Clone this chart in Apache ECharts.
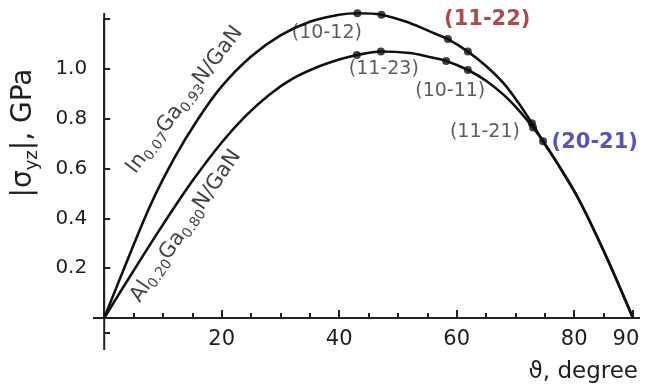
<!DOCTYPE html>
<html><head><meta charset="utf-8">
<script src="https://cdn.jsdelivr.net/npm/echarts@6/dist/echarts.min.js"></script>
<style>html,body{margin:0;padding:0;background:#fff}#c{width:647px;height:389px}</style>
</head><body><div id="c"></div>
<script>
// ---- data ----
const inAngle  = [0, 4, 8, 12, 16, 20, 25, 30, 35, 40, 43.1, 47.2, 52, 56, 58.5, 61.9, 65, 68, 70.5, 72.8, 74.7, 77.3, 80.7, 85.2, 90];
const inStress = [0, 0.235, 0.46, 0.645, 0.80, 0.93, 1.05, 1.135, 1.19, 1.218, 1.224, 1.218, 1.185, 1.145, 1.12, 1.07, 1.012, 0.942, 0.864, 0.782, 0.71, 0.615, 0.48, 0.26, 0];
const alAngle  = [0, 5, 10, 15, 20, 24, 28, 32, 36, 40, 43, 47.1, 52, 55, 58.2, 61.9, 65, 68, 70.5, 73, 74.7, 77.3, 80.7, 85.2, 90];
const alStress = [0, 0.19, 0.375, 0.55, 0.705, 0.81, 0.895, 0.96, 1.005, 1.038, 1.056, 1.07, 1.064, 1.05, 1.032, 0.996, 0.953, 0.896, 0.836, 0.765, 0.71, 0.615, 0.48, 0.26, 0];
const inDotAngle  = [43.1, 47.2, 58.5, 61.9, 72.8];
const inDotStress = [1.224, 1.218, 1.12, 1.07, 0.782];
const alDotAngle  = [43, 47.1, 58.2, 61.9, 73, 74.7];
const alDotStress = [1.056, 1.07, 1.032, 0.996, 0.765, 0.71];
const xTickLabels = [20, 40, 60, 80, 90];
const yTickLabels = [0.2, 0.4, 0.6, 0.8, 1.0];
const planeNames  = ['(10-12)', '(11-22)', '(11-23)', '(10-11)', '(11-21)', '(20-21)'];
const planeAngle  = [37.9, 65.2, 47.6, 58.9, 64.8, 83.5];
const planeStress = [1.145, 1.197, 1.0, 0.912, 0.747, 0.703];
const curveNames  = ['{m|In}{s|0.07}{m|Ga}{s|0.93}{m|N/GaN}', '{m|Al}{s|0.20}{m|Ga}{s|0.80}{m|N/GaN}'];
const curveNameAngle  = [13.7, 13.9];
const curveNameStress = [0.876, 0.369];
const curveNameRotate = [52.9, 55.6];
const xTitle = 'ϑ, degree';
const yTitle = '{m||σ}{s|yz}{m||, GPa}';

// ---- chart ----
const FONT = 'DejaVu Sans';
const AX = '#222';
const zip = (a, b) => a.map((v, i) => [v, b[i]]);
const planeStyles = {
  '(11-22)': {color: '#9a1d22', fontWeight: 'bold', fontSize: 21},
  '(20-21)': {color: '#2a2aac', fontWeight: 'bold', fontSize: 21}
};
const G = {left: 104.2, top: 19.2, width: 528.75, height: 298.8};
const chart = echarts.init(document.getElementById('c'));
chart.setOption({
  animation: false,
  backgroundColor: '#fff',
  grid: G,
  xAxis: [
    {type: 'value', min: 0, max: 90, interval: 5, position: 'bottom', splitLine: {show: false},
      axisLine: {show: true, lineStyle: {color: AX, width: 2}},
      axisTick: {show: true, inside: true, length: 5, lineStyle: {color: AX, width: 2}},
      axisLabel: {fontSize: 21, fontFamily: FONT, color: '#1e1e1e', margin: 11,
        formatter: v => v === 90 ? '{n|90}' : (xTickLabels.includes(v) ? String(v) : ''),
        rich: {n: {fontSize: 21, fontFamily: FONT, color: '#1e1e1e', padding: [0, 14, 0, 0]}}}},
    {type: 'value', min: 0, max: 90, interval: 20, position: 'bottom', splitLine: {show: false},
      axisLine: {show: false},
      axisTick: {show: true, inside: true, length: 8, lineStyle: {color: AX, width: 2}},
      axisLabel: {show: false}}
  ],
  yAxis: {
    type: 'value', min: 0, max: 1.2, interval: 0.2, splitLine: {show: false},
    axisLine: {show: true, lineStyle: {color: AX, width: 2}},
    axisTick: {show: true, inside: true, length: 6, lineStyle: {color: AX, width: 2}},
    axisLabel: {fontSize: 20, fontFamily: FONT, color: '#1e1e1e', margin: 17,
      formatter: v => yTickLabels.some(t => Math.abs(t - v) < 1e-6) ? v.toFixed(1) : ''}
  },
  series: [
    {type: 'line', data: zip(inAngle, inStress), smooth: 0.35, showSymbol: false, symbol: 'none', clip: false,
      lineStyle: {color: '#111', width: 2.6}, silent: true},
    {type: 'line', data: zip(alAngle, alStress), smooth: 0.35, showSymbol: false, symbol: 'none', clip: false,
      lineStyle: {color: '#111', width: 2.6}, silent: true},
    {type: 'scatter', data: zip(inDotAngle, inDotStress), symbolSize: 8, itemStyle: {color: '#111'}, silent: true, clip: false},
    {type: 'scatter', data: zip(alDotAngle, alDotStress), symbolSize: 8, itemStyle: {color: '#111'}, silent: true, clip: false},
    {type: 'scatter', symbolSize: 1, itemStyle: {color: 'rgba(0,0,0,0)'}, silent: true, clip: false,
      data: planeNames.map((n, i) => ({
        value: [planeAngle[i], planeStress[i]], name: n,
        label: Object.assign({show: true, position: 'inside', formatter: n, fontFamily: FONT,
          fontSize: 19, color: '#333'}, planeStyles[n] || {})
      }))},
    {type: 'scatter', symbolSize: 1, itemStyle: {color: 'rgba(0,0,0,0)'}, silent: true, clip: false,
      data: curveNames.map((n, i) => ({
        value: [curveNameAngle[i], curveNameStress[i]],
        label: {show: true, position: 'inside', formatter: n, rotate: curveNameRotate[i],
          rich: {
            m: {fontFamily: FONT, fontSize: 21, lineHeight: 26, color: '#111'},
            s: {fontFamily: FONT, fontSize: 14, lineHeight: 12, verticalAlign: 'bottom', color: '#111'}
          }}
      }))}
  ],
  graphic: [
    // axis line extensions beyond the plotted range (as in the reference)
    {type: 'line', silent: true, shape: {x1: 93, y1: 318, x2: 640, y2: 318}, style: {stroke: AX, lineWidth: 2}},
    {type: 'line', silent: true, shape: {x1: 104.2, y1: 13, x2: 104.2, y2: 350}, style: {stroke: AX, lineWidth: 2}},
    {type: 'line', silent: true, shape: {x1: 104.2, y1: 333, x2: 110, y2: 333}, style: {stroke: AX, lineWidth: 2}},
    {type: 'text', x: 24, y: 133, rotation: Math.PI / 2, silent: true,
      style: {text: yTitle, x: 0, y: 0, align: 'center', verticalAlign: 'middle',
        textAlign: 'center', textVerticalAlign: 'middle',
        rich: {
          m: {fontFamily: FONT, fontSize: 28, lineHeight: 34, fill: '#1e1e1e'},
          s: {fontFamily: FONT, fontSize: 18, lineHeight: 14, verticalAlign: 'bottom', fill: '#1e1e1e'}
        }}},
    {type: 'text', x: 638, y: 372, silent: true,
      style: {text: xTitle, x: 0, y: 0, align: 'right', verticalAlign: 'middle',
        textAlign: 'right', textVerticalAlign: 'middle',
        font: '23px "DejaVu Sans"', fontFamily: FONT, fontSize: 23, fill: '#1e1e1e'}}
  ]
});
</script></body></html>
